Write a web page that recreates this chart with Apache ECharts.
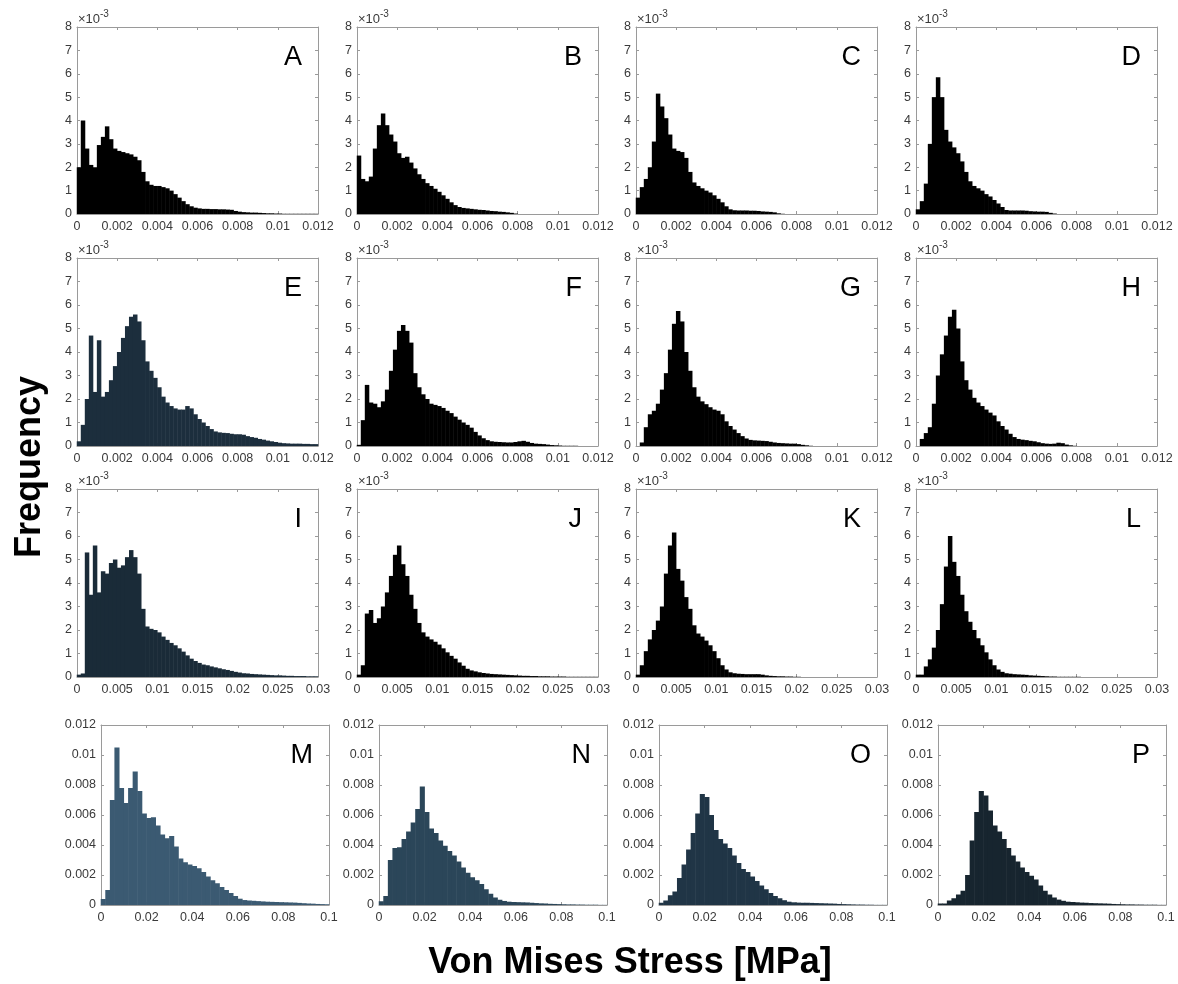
<!DOCTYPE html>
<html><head><meta charset="utf-8">
<script src="https://cdn.jsdelivr.net/npm/echarts@6/dist/echarts.min.js"></script>
<style>html,body{margin:0;padding:0;background:#fff}#c{width:1178px;height:984px}</style>
</head><body><div id="c"></div>
<script>
// ---- data (frequency values, in units of 1e-3) ----
const panelLetters = ['A','B','C','D','E','F','G','H','I','J','K','L','M','N','O','P'];
const rowBinWidth = [0.0002, 0.0002, 0.0005, 0.002];
const rowXMax = [0.012, 0.012, 0.03, 0.1];
const rowXInterval = [0.002, 0.002, 0.005, 0.02];
const xTickLabelsRow12 = ['0','0.002','0.004','0.006','0.008','0.01','0.012'];
const xTickLabelsRow3 = ['0','0.005','0.01','0.015','0.02','0.025','0.03'];
const xTickLabelsRow4 = ['0','0.02','0.04','0.06','0.08','0.1'];
const yTickLabelsRow123 = ['0','1','2','3','4','5','6','7','8'];
const yTickLabelsRow4 = ['0','0.002','0.004','0.006','0.008','0.01','0.012'];
const xAxisTitle = 'Von Mises Stress [MPa]';
const yAxisTitle = 'Frequency';

const A = [2.0,4.0,2.8,2.1,2.0,2.95,3.3,3.75,3.2,2.8,
 2.7,2.65,2.6,2.55,2.45,2.3,1.8,1.4,1.25,1.2,
 1.2,1.15,1.1,1.0,0.85,0.7,0.55,0.42,0.33,0.27,
 0.24,0.22,0.22,0.21,0.21,0.2,0.2,0.19,0.18,0.13,
 0.1,0.08,0.07,0.06,0.06,0.05,0.04,0.03,0.03,0.02,
 0.02,0.01,0.01,0.01,0.01,0.01,0.01,0.01,0.01,0.01];
const B = [2.5,1.5,1.4,1.6,2.8,3.8,4.3,3.8,3.4,3.1,
 2.6,2.4,2.45,2.2,1.95,1.7,1.5,1.32,1.2,1.08,
 0.95,0.8,0.65,0.5,0.38,0.3,0.26,0.24,0.22,0.2,
 0.18,0.17,0.15,0.13,0.12,0.1,0.09,0.07,0.05,0.02,
 0,0,0,0,0,0,0,0,0,0, 0,0,0,0,0,0,0,0,0,0];
const C = [0.7,1.15,1.5,2.0,3.1,5.15,4.6,4.1,3.4,2.8,
 2.7,2.65,2.4,1.8,1.35,1.2,1.1,1.0,0.92,0.8,
 0.65,0.5,0.33,0.2,0.16,0.15,0.15,0.15,0.14,0.14,
 0.13,0.11,0.1,0.09,0.07,0.03,0.01,0,0,0,
 0,0,0,0,0,0,0,0,0,0, 0,0,0,0,0,0,0,0,0,0];
const D = [0.2,0.55,1.3,3.0,5.0,5.85,5.0,3.6,3.1,2.85,
 2.6,2.25,1.8,1.4,1.2,1.1,1.0,0.85,0.75,0.6,
 0.45,0.3,0.17,0.15,0.15,0.15,0.15,0.14,0.12,0.11,
 0.1,0.1,0.09,0.05,0.02,0,0,0,0,0,
 0,0,0,0,0,0,0,0,0,0, 0,0,0,0,0,0,0,0,0,0];
const E = [0.2,0.9,2.0,4.7,2.3,4.5,2.1,2.3,2.8,3.4,
 4.0,4.6,5.1,5.5,5.6,5.3,4.5,3.6,3.2,2.9,
 2.5,2.1,1.85,1.7,1.6,1.55,1.55,1.7,1.6,1.35,
 1.15,1.0,0.85,0.72,0.62,0.58,0.56,0.55,0.52,0.5,
 0.5,0.48,0.42,0.38,0.35,0.3,0.27,0.23,0.2,0.17,
 0.14,0.12,0.11,0.1,0.1,0.1,0.09,0.09,0.08,0.08];
const F = [0.05,1.1,2.6,1.85,1.8,1.65,1.9,2.4,3.2,4.1,
 4.9,5.15,4.9,4.4,3.1,2.5,2.2,2.0,1.8,1.75,
 1.7,1.62,1.5,1.4,1.25,1.12,1.0,0.9,0.78,0.6,
 0.45,0.33,0.25,0.2,0.18,0.17,0.16,0.15,0.15,0.17,
 0.2,0.22,0.18,0.13,0.1,0.09,0.08,0.06,0.04,0.03,
 0.02,0.01,0.01,0.01,0.01,0,0,0,0,0];
const G = [0,0.15,0.8,1.35,1.5,1.8,2.4,3.1,4.1,5.2,
 5.75,5.3,4.0,3.2,2.5,2.1,1.9,1.78,1.65,1.55,
 1.5,1.35,1.05,0.85,0.7,0.55,0.42,0.32,0.26,0.24,
 0.23,0.22,0.21,0.18,0.15,0.13,0.12,0.11,0.1,0.1,
 0.08,0.05,0.03,0.01,0,0,0,0,0,0, 0,0,0,0,0,0,0,0,0,0];
const H = [0,0.3,0.55,0.8,1.8,3.0,3.9,4.7,5.5,5.8,
 5.0,3.6,2.8,2.4,2.05,1.85,1.7,1.55,1.42,1.3,
 1.05,0.85,0.7,0.52,0.38,0.3,0.27,0.25,0.22,0.2,
 0.16,0.12,0.1,0.09,0.1,0.14,0.12,0.06,0.03,0.01,
 0,0,0,0,0,0,0,0,0,0, 0,0,0,0,0,0,0,0,0,0];
const I = [0.1,0.15,5.3,3.5,5.6,3.6,4.5,4.4,4.85,5.0,
 4.65,4.75,5.1,5.4,5.1,4.4,2.9,2.15,2.05,2.0,
 1.9,1.72,1.58,1.45,1.35,1.22,1.08,0.92,0.78,0.68,
 0.6,0.53,0.5,0.45,0.41,0.37,0.33,0.3,0.26,0.22,
 0.19,0.16,0.15,0.13,0.12,0.11,0.1,0.09,0.08,0.07,
 0.07,0.06,0.05,0.05,0.04,0.04,0.04,0.03,0.03,0.03];
const J = [0.1,0.5,2.7,2.85,2.3,2.5,3.0,3.6,4.3,5.2,
 5.6,4.8,4.3,3.5,2.9,2.3,1.9,1.72,1.6,1.5,
 1.38,1.22,1.05,0.9,0.78,0.62,0.48,0.35,0.28,0.24,
 0.2,0.17,0.15,0.13,0.12,0.11,0.1,0.09,0.08,0.07,
 0.06,0.05,0.05,0.04,0.04,0.03,0.03,0.03,0.02,0.02,
 0.02,0.02,0.01,0.01,0.01,0.01,0.01,0.01,0.01,0.01];
const K = [0.1,0.5,1.1,1.6,2.0,2.4,3.0,4.4,5.6,6.15,
 4.6,4.1,3.4,2.9,2.2,1.85,1.72,1.55,1.35,1.1,
 0.8,0.5,0.32,0.2,0.16,0.14,0.13,0.12,0.12,0.12,
 0.12,0.1,0.07,0.05,0.04,0.03,0.03,0.02,0.02,0.01,
 0.01,0,0,0,0,0,0,0,0,0, 0,0,0,0,0,0,0,0,0,0];
const L = [0.1,0.1,0.45,0.75,1.25,2.0,3.1,4.7,6.0,4.9,
 4.3,3.5,2.8,2.35,2.0,1.65,1.35,1.05,0.75,0.5,
 0.32,0.22,0.16,0.14,0.12,0.11,0.1,0.09,0.07,0.06,
 0.05,0.04,0.03,0.02,0.02,0.01,0.01,0.01,0.01,0.01,
 0.01,0,0,0,0,0,0,0,0,0, 0,0,0,0,0,0,0,0,0,0];
const M = [0.4,1.0,7.0,10.5,7.8,6.8,7.8,8.9,7.6,6.1,
 5.8,5.85,5.3,4.7,4.45,4.6,3.9,3.1,2.85,2.7,
 2.6,2.45,2.2,1.9,1.65,1.45,1.2,1.0,0.8,0.6,
 0.42,0.33,0.3,0.28,0.26,0.24,0.22,0.21,0.2,0.19,
 0.18,0.17,0.16,0.14,0.12,0.1,0.09,0.07,0.06,0.05];
const N = [0.25,0.6,3.0,3.8,3.85,4.4,4.9,5.5,6.4,7.9,
 6.2,5.1,4.8,4.3,3.95,3.6,3.3,2.9,2.5,2.15,
 1.85,1.65,1.4,1.05,0.75,0.5,0.35,0.27,0.22,0.2,
 0.19,0.18,0.17,0.15,0.13,0.11,0.1,0.08,0.07,0.06,
 0.05,0.04,0.04,0.03,0.03,0.02,0.02,0.02,0.01,0.01];
const O = [0.15,0.3,0.65,0.9,1.8,2.7,3.7,4.8,6.1,7.4,
 7.2,6.0,5.0,4.4,4.1,3.8,3.3,2.8,2.4,2.2,
 1.9,1.6,1.3,1.05,0.8,0.6,0.45,0.32,0.22,0.18,
 0.16,0.15,0.15,0.14,0.13,0.12,0.11,0.1,0.09,0.07,
 0.06,0.05,0.04,0.03,0.03,0.02,0.02,0.01,0.01,0.01];
const P = [0.1,0.1,0.3,0.45,0.7,0.95,2.0,4.3,6.2,7.6,
 7.3,6.3,5.3,4.9,4.4,3.8,3.3,2.9,2.5,2.2,
 1.95,1.7,1.3,0.95,0.7,0.5,0.36,0.28,0.22,0.2,
 0.18,0.16,0.15,0.13,0.12,0.11,0.1,0.09,0.07,0.06,
 0.05,0.04,0.04,0.03,0.03,0.02,0.02,0.02,0.01,0.01];
const panelValues = [A,B,C,D,E,F,G,H,I,J,K,L,M,N,O,P];
const panelColors = ['#000000','#000000','#000000','#000000',
 '#1c2e3d','#000000','#000000','#000000',
 '#1a2b38','#000000','#000000','#000000',
 '#3b5a72','#2b4659','#203546','#17252f'];

// ---- layout ----
const colLeft123 = [77, 357, 636, 916];
const colLeft4 = [101, 379, 659, 938];
const rowTop = [27, 258, 489, 725];
const rowHeight = [187, 188, 188, 180];
const width123 = 241, width4 = 228;
const FONT = '"Liberation Sans", Arial, Helvetica, sans-serif';
const frameColor = '#9a9a9a';
const labelColor = '#3a3a3a';

const grids = [], xAxes = [], yAxes = [], series = [], graphics = [];
panelValues.forEach((vals, i) => {
  const r = Math.floor(i / 4), c = i % 4;
  const left = r < 3 ? colLeft123[c] : colLeft4[c];
  const w = r < 3 ? width123 : width4;
  const top = rowTop[r], h = rowHeight[r];
  grids.push({left: left, top: top, width: w, height: h, containLabel: false, outerBoundsMode: 'none'});
  const xLabels = r < 2 ? xTickLabelsRow12 : (r === 2 ? xTickLabelsRow3 : xTickLabelsRow4);
  const yLabels = r < 3 ? yTickLabelsRow123 : yTickLabelsRow4;
  const yMax = r < 3 ? 8 : 12, yInt = r < 3 ? 1 : 2;
  const xInt = rowXInterval[r];
  const common = {
    axisLine: {show: true, onZero: false, lineStyle: {color: frameColor, width: 1}},
    axisTick: {show: true, inside: true, length: 3, lineStyle: {color: frameColor}},
    splitLine: {show: false}
  };
  xAxes.push(Object.assign({type: 'value', gridIndex: i, position: 'bottom', min: 0, max: rowXMax[r], interval: xInt,
    axisLabel: {show: true, color: labelColor, fontSize: 12.5, fontFamily: FONT, margin: 6, hideOverlap: false,
      formatter: v => xLabels[Math.round(v / xInt)]}}, common));
  xAxes.push(Object.assign({type: 'value', gridIndex: i, position: 'top', min: 0, max: rowXMax[r], interval: xInt,
    axisLabel: {show: false}}, common));
  yAxes.push(Object.assign({type: 'value', gridIndex: i, position: 'left', min: 0, max: yMax, interval: yInt,
    axisLabel: {show: true, color: labelColor, fontSize: 12.5, fontFamily: FONT, margin: 5,
      formatter: v => yLabels[Math.round(v / yInt)]}}, common));
  yAxes.push(Object.assign({type: 'value', gridIndex: i, position: 'right', min: 0, max: yMax, interval: yInt,
    axisLabel: {show: false}}, common));
  const bw = rowBinWidth[r];
  series.push({
    type: 'bar', xAxisIndex: 2 * i, yAxisIndex: 2 * i, silent: true,
    barWidth: '112%', barGap: '0%',
    itemStyle: {color: panelColors[i]},
    data: vals.map((v, k) => [(k + 0.5) * bw, v])
  });
  graphics.push({type: 'text', x: left + w - 16, y: top + 17, silent: true,
    style: {text: panelLetters[i], fill: '#000', font: '27px ' + FONT, align: 'right', verticalAlign: 'top'}});
  if (r < 3) {
    graphics.push({type: 'text', x: left + 1, y: top - 14, silent: true,
      style: {text: '×10', fill: labelColor, font: '13px ' + FONT, align: 'left', verticalAlign: 'top'}});
    graphics.push({type: 'text', x: left + 23, y: top - 18, silent: true,
      style: {text: '-3', fill: labelColor, font: '10px ' + FONT, align: 'left', verticalAlign: 'top'}});
  }
});
graphics.push({type: 'text', x: 30, y: 467, rotation: Math.PI / 2, silent: true,
  style: {text: yAxisTitle, fill: '#000', font: 'bold 36px ' + FONT, align: 'center', verticalAlign: 'middle'}});
graphics.push({type: 'text', x: 630, y: 963, silent: true,
  style: {text: xAxisTitle, fill: '#000', font: 'bold 36px ' + FONT, align: 'center', verticalAlign: 'middle'}});

const chart = echarts.init(document.getElementById('c'), null, {renderer: 'canvas'});
chart.setOption({
  animation: false,
  backgroundColor: '#ffffff',
  grid: grids, xAxis: xAxes, yAxis: yAxes, series: series, graphic: graphics
});
</script>
</body></html>
